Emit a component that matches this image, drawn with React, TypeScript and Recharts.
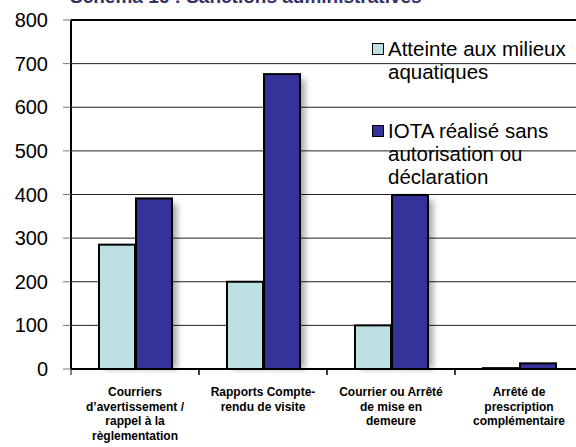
import React from "react";
import {
  BarChart,
  Bar,
  XAxis,
  YAxis,
  CartesianGrid,
  ReferenceLine,
} from "recharts";

const categories = [
  ["Courriers", "d\u2019avertissement /", "rappel à la", "règlementation"],
  ["Rapports Compte-", "rendu de visite"],
  ["Courrier ou Arrêté", "de mise en", "demeure"],
  ["Arrêté de", "prescription", "complémentaire"],
];
const atteinte = [285, 200, 100, 2];
const iota = [391, 676, 399, 13];
const yTicks = [0, 100, 200, 300, 400, 500, 600, 700, 800];

const seriesNames = {
  atteinte: ["Atteinte aux milieux", "aquatiques"],
  iota: ["IOTA réalisé sans", "autorisation ou", "déclaration"],
};

const LIGHT = "#bde1e3";
const DARK = "#333399";
const FONT = "'Liberation Sans', Arial, sans-serif";

const data = categories.map((c, i) => ({
  key: String(i),
  atteinte: atteinte[i],
  iota: iota[i],
}));

function ShadowBar(props: any) {
  const { x, y, width, height, fill } = props;
  if (height == null || width == null) return null;
  return (
    <g>
      <rect
        x={x + 5}
        y={y + 5}
        width={width}
        height={Math.max(height - 5, 0)}
        fill="#000"
        opacity={0.35}
        filter="url(#barBlur)"
      />
      <rect
        x={x}
        y={y}
        width={width}
        height={height}
        fill={fill}
        stroke="#000"
        strokeWidth={2}
      />
    </g>
  );
}

function CategoryTick(props: any) {
  const { x, y, payload } = props;
  const lines = categories[Number(payload.value)] || [];
  const half = payload.offset || 64;
  return (
    <g>
      <line x1={x - half} x2={x - half} y1={y} y2={y + 6} stroke="#000" strokeWidth={1} />
      <line x1={x + half} x2={x + half} y1={y} y2={y + 6} stroke="#000" strokeWidth={1} />
      <text
        x={x}
        y={y + 27}
        textAnchor="middle"
        fontFamily={FONT}
        fontWeight="bold"
        fontSize={12}
        fill="#000"
      >
        {lines.map((l, i) => (
          <tspan key={i} x={x} dy={i === 0 ? 0 : 14.5}>
            {l}
          </tspan>
        ))}
      </text>
    </g>
  );
}

function LegendBox() {
  const entry = (color: string, lines: string[], mt: number) => (
    <div style={{ position: "relative", paddingLeft: 16, marginTop: mt }}>
      <span
        style={{
          position: "absolute",
          left: 0,
          top: 6,
          width: 10,
          height: 10,
          background: color,
          border: "1px solid #000",
        }}
      />
      {lines.map((l, i) => (
        <div key={i}>{l}</div>
      ))}
    </div>
  );
  return (
    <div
      style={{
        position: "absolute",
        left: 372,
        top: 37,
        fontFamily: FONT,
        fontSize: 20.5,
        lineHeight: "23px",
        color: "#000",
        whiteSpace: "nowrap",
      }}
    >
      {entry(LIGHT, seriesNames.atteinte, 0)}
      {entry(DARK, seriesNames.iota, 36)}
    </div>
  );
}

export default function App() {
  return (
    <div
      style={{
        position: "absolute",
        left: 0,
        top: 0,
        width: 576,
        height: 447,
        overflow: "hidden",
        background: "#fff",
      }}
    >
      <svg width={0} height={0} style={{ position: "absolute" }}>
        <defs>
          <filter id="barBlur" x="-50%" y="-50%" width="200%" height="200%">
            <feGaussianBlur stdDeviation={3} />
          </filter>
        </defs>
      </svg>
      <svg
        width={576}
        height={20}
        style={{ position: "absolute", left: 0, top: 0 }}
      >
        <text
          x={70}
          y={3}
          fontFamily={FONT}
          fontWeight="bold"
          fontSize={19}
          fill="#333366"
        >
          Schéma 16 : Sanctions administratives
        </text>
      </svg>
      <BarChart
        width={600}
        height={447}
        data={data}
        margin={{ top: 20, right: 17, bottom: 0, left: 0 }}
        barSize={36}
        barGap={1}
      >
        <CartesianGrid vertical={false} stroke="#222" strokeWidth={1} />
        <XAxis
          dataKey="key"
          height={78}
          tickSize={0}
          tickMargin={0}
          tickLine={false}
          axisLine={{ stroke: "#000", strokeWidth: 2 }}
          tick={<CategoryTick />}
          interval={0}
        />
        <YAxis
          width={71}
          domain={[0, 800]}
          ticks={yTicks}
          interval={0}
          tickSize={8}
          tickMargin={15}
          tickLine={{ stroke: "#777", strokeWidth: 1 }}
          axisLine={{ stroke: "#000", strokeWidth: 2 }}
          tick={{ fill: "#000", fontSize: 20, fontFamily: FONT }}
        />
        <ReferenceLine y={800} stroke="#000" strokeWidth={2} />
        <Bar
          dataKey="atteinte"
          fill={LIGHT}
          shape={<ShadowBar />}
          isAnimationActive={false}
        />
        <Bar
          dataKey="iota"
          fill={DARK}
          shape={<ShadowBar />}
          isAnimationActive={false}
        />
      </BarChart>
      <LegendBox />
    </div>
  );
}
